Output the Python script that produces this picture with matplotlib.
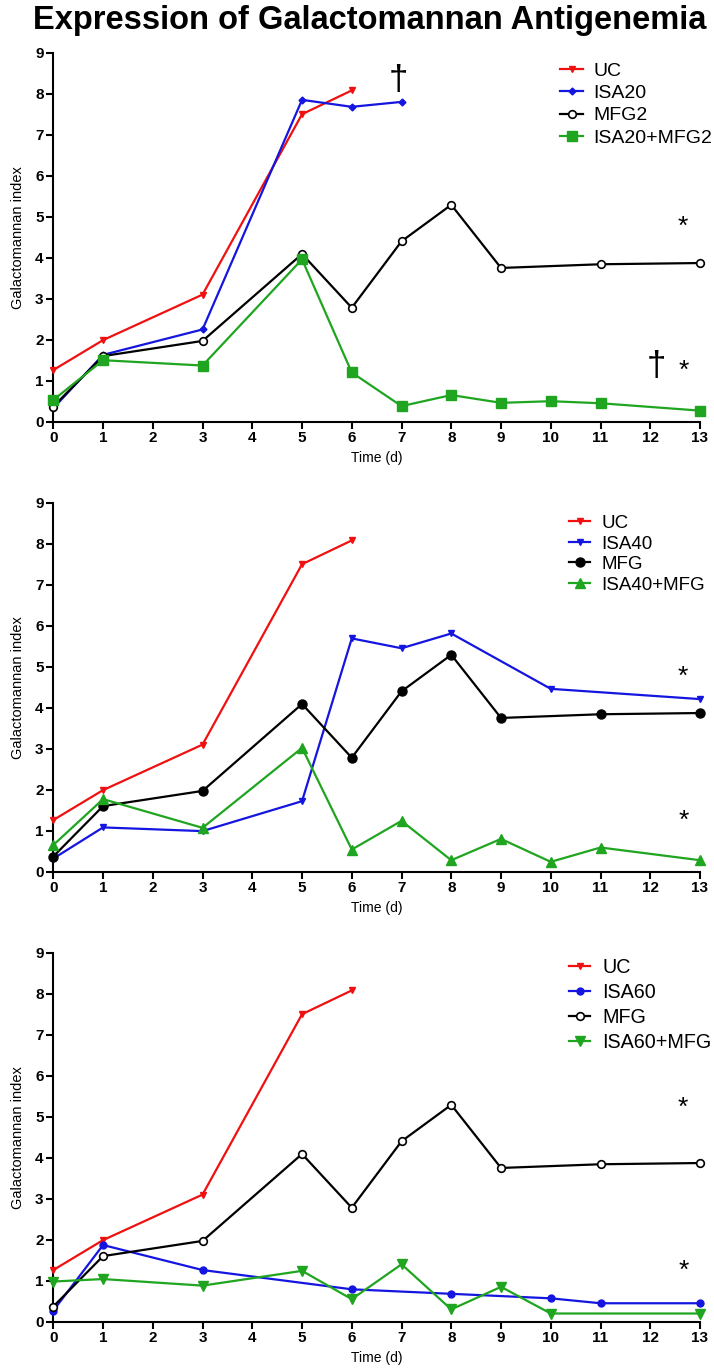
import matplotlib.pyplot as plt

# time points (days)
t_uc = [0, 1, 3, 5, 6]
uc = [1.26, 1.99, 3.1, 7.5, 8.08]

t_mfg = [0, 1, 3, 5, 6, 7, 8, 9, 11, 13]
mfg = [0.37, 1.6, 1.97, 4.09, 2.78, 4.4, 5.29, 3.75, 3.84, 3.87]

# panel 1
t_isa20 = [0, 1, 3, 5, 6, 7]
isa20 = [0.33, 1.63, 2.25, 7.85, 7.68, 7.8]
t_isa20_mfg2 = [0, 1, 3, 5, 6, 7, 8, 9, 10, 11, 13]
isa20_mfg2 = [0.53, 1.5, 1.37, 3.96, 1.2, 0.38, 0.65, 0.46, 0.5, 0.45, 0.27]

# panel 2
t_isa40 = [0, 1, 3, 5, 6, 7, 8, 10, 13]
isa40 = [0.32, 1.08, 0.99, 1.72, 5.69, 5.45, 5.81, 4.46, 4.21]
t_isa40_mfg = [0, 1, 3, 5, 6, 7, 8, 9, 10, 11, 13]
isa40_mfg = [0.65, 1.77, 1.07, 3.02, 0.54, 1.24, 0.28, 0.8, 0.24, 0.59, 0.28]

# panel 3
t_isa60 = [0, 1, 3, 6, 8, 10, 11, 13]
isa60 = [0.27, 1.87, 1.26, 0.79, 0.68, 0.57, 0.45, 0.45]
t_isa60_mfg = [0, 1, 3, 5, 6, 7, 8, 9, 10, 13]
isa60_mfg = [0.98, 1.04, 0.88, 1.24, 0.55, 1.4, 0.3, 0.85, 0.2, 0.2]

RED = "#f01010"
BLUE = "#1515e0"
GREEN = "#1fa51f"

panels = [
    [
        ("UC", t_uc, uc, RED, dict(marker="v", ms=5)),
        ("ISA20", t_isa20, isa20, BLUE, dict(marker="D", ms=3.5)),
        ("MFG2", t_mfg, mfg, "black", dict(marker="o", ms=5.5, mfc="white", mew=1.2)),
        ("ISA20+MFG2", t_isa20_mfg2, isa20_mfg2, GREEN, dict(marker="s", ms=6.5)),
    ],
    [
        ("UC", t_uc, uc, RED, dict(marker="v", ms=5)),
        ("ISA40", t_isa40, isa40, BLUE, dict(marker="v", ms=5)),
        ("MFG", t_mfg, mfg, "black", dict(marker="o", ms=6.5)),
        ("ISA40+MFG", t_isa40_mfg, isa40_mfg, GREEN, dict(marker="^", ms=6.5)),
    ],
    [
        ("UC", t_uc, uc, RED, dict(marker="v", ms=5)),
        ("ISA60", t_isa60, isa60, BLUE, dict(marker="o", ms=5)),
        ("MFG", t_mfg, mfg, "black", dict(marker="o", ms=5.5, mfc="white", mew=1.2)),
        ("ISA60+MFG", t_isa60_mfg, isa60_mfg, GREEN, dict(marker="v", ms=6.5)),
    ],
]

# annotations (symbol, x, y) per panel
notes = [
    [("\u2020", 6.93, 8.33), ("*", 12.65, 4.75), ("\u2020", 12.13, 1.35), ("*", 12.67, 1.25)],
    [("*", 12.65, 4.75), ("*", 12.67, 1.25)],
    [("*", 12.65, 5.22), ("*", 12.67, 1.25)],
]

# legend layout per panel: anchor, fontsize, labelspacing, handlelength
legend_opts = [
    dict(bbox_to_anchor=(0.7835, 0.975), fontsize=14, labelspacing=0.25, handlelength=1.2, handletextpad=0.5),
    dict(bbox_to_anchor=(0.797, 0.967), fontsize=13.5, labelspacing=0.18, handlelength=1.15, handletextpad=0.6),
    dict(bbox_to_anchor=(0.797, 0.985), fontsize=14.2, labelspacing=0.3, handlelength=1.1, handletextpad=0.6),
]

narrow = ["Liberation Sans Narrow", "Liberation Sans", "DejaVu Sans"]
plt.rcParams["font.family"] = ["Liberation Sans", "DejaVu Sans"]

W, H = 714, 1369
fig = plt.figure(figsize=(W / 100, H / 100), dpi=100)
fig.text(0.518, 0.9848, "Expression of Galactomannan Antigenemia",
         ha="center", va="center", fontsize=23.5, fontweight="bold")

bottoms = [947.3, 497.3, 47.3]
for bottom, series, ann, lopt in zip(bottoms, panels, notes, legend_opts):
    ax = fig.add_axes([53.3 / W, bottom / H, 646.7 / W, 369 / H])
    for label, x, y, color, style in series:
        ax.plot(x, y, color=color, lw=1.6, label=label, clip_on=False,
                zorder=3, **style)
    for sym, x, y in ann:
        ax.text(x, y, sym, ha="center", va="center",
                fontsize=25 if sym == "\u2020" else 19)
    ax.set_xlim(0, 13)
    ax.set_ylim(0, 9)
    ax.set_xticks(range(14))
    ax.set_yticks(range(10))
    for s in ["top", "right"]:
        ax.spines[s].set_visible(False)
    for s in ["left", "bottom"]:
        ax.spines[s].set_linewidth(1.5)
    ax.tick_params(direction="out", length=5, width=1.5, labelsize=11, pad=2)
    for lab in ax.get_xticklabels() + ax.get_yticklabels():
        lab.set_fontweight("bold")
    ax.set_ylabel("Galactomannan index", fontsize=10.5, family=narrow, labelpad=7)
    ax.set_xlabel("Time (d)", fontsize=10, family=narrow, labelpad=4)
    ax.legend(loc="upper left", frameon=False, borderaxespad=0, borderpad=0,
              **lopt)

fig.savefig("out.png", dpi=100)
